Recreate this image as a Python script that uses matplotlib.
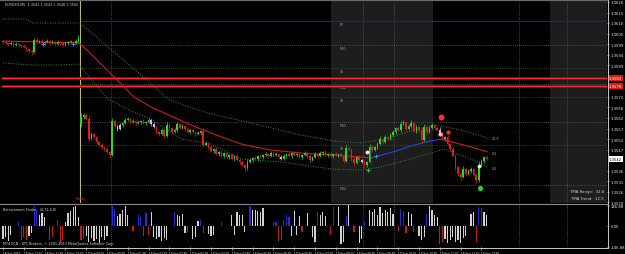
import numpy as np
import matplotlib
matplotlib.use("Agg")
import matplotlib.pyplot as plt
import matplotlib.transforms as mtransforms
from matplotlib.lines import Line2D

BASE = 1.3500
PIP = 0.0001

# ---------------- candles (pips above 1.3500) ----------------
gap_opens = {0: 101.0, 30: 59.5}
close_pips = [
    100.5, 100, 99.5, 100, 99, 99.5, 99, 98.5, 98, 97,
    96, 95.5, 101.5, 100.5, 101, 100, 100.5, 101, 100, 100.5,
    99.5, 100.5, 100, 99, 100, 100.5, 100.5, 100, 101, 102.5,
    63, 64, 62, 52, 54.5, 53, 50.5, 49, 48, 47,
    45.5, 44, 61, 58.5, 57, 59, 60, 61.5, 62, 60.5,
    61, 60, 60.5, 61, 60, 60.5, 61.5, 59.5, 58, 55.5,
    54.5, 56.5, 53.5, 59, 57.5, 55.5, 56.5, 59.5, 57.5, 58.5,
    57, 55.5, 56.5, 55.5, 54.5, 55, 56, 49, 50, 48,
    46, 47, 44.5, 45.5, 43.5, 45, 43, 44, 42, 43.5,
    41.5, 40.5, 39, 37.5, 40.5, 41.5, 42.5, 42, 43.5, 43,
    44, 44.5, 43.5, 45, 44, 44.5, 43, 42, 43.5, 44.5,
    43.5, 45, 44, 44.5, 43, 44, 45, 43.5, 41.5, 43,
    44.5, 43.5, 45, 45.5, 44, 44.5, 43.5, 44.5, 44, 44.5,
    43.5, 41, 47.5, 47, 42, 40, 43, 41.5, 40.5, 39,
    40.5, 48, 46.5, 48, 49.5, 52, 50.5, 53, 52, 54,
    55.5, 57.5, 56.5, 59.5, 60.5, 57, 58.5, 60, 56, 58,
    56.5, 51.5, 58, 55.5, 57.5, 59, 57.5, 56.5, 55, 52,
    53, 49.5, 47, 43.5, 38, 34.5, 33, 37, 34.5, 36,
    37, 34, 31.5, 39, 41, 43, 42,
]
upper_wick = [
    0.5, 1, 0.5, 1, 0.5, 1, 0.5, 0.5, 1, 0.5, 0.5, 1, 1, 1.5, 0.5, 1, 0.5, 1, 0.5, 1,
    0.5, 1, 0.5, 0.5, 1, 0.5, 1, 0.5, 1, 1.5,
    2, 1, 1, 1.5, 1, 0.5, 1, 0.5, 1, 0.5,
    1, 0.5, 1.5, 1, 0.5, 1, 0.5, 1, 1, 0.5,
    1, 0.5, 1, 0.5, 1, 0.5, 1, 0.5, 1, 1,
    0.5, 1, 0.5, 1.5, 1, 0.5, 1, 1, 0.5, 1,
    0.5, 1, 0.5, 1, 0.5, 1, 0.5, 1.5, 1, 0.5,
    1, 0.5, 1, 0.5, 1, 0.5, 1, 0.5, 1, 0.5,
    1, 0.5, 1, 0.5, 1.5, 1, 0.5, 1, 0.5, 1,
    0.5, 1, 0.5, 1, 0.5, 1, 0.5, 1, 1, 0.5,
    1, 0.5, 1, 0.5, 1, 0.5, 1, 0.5, 1, 0.5,
    1, 0.5, 1, 0.5, 1, 0.5, 1, 0.5, 1, 0.5,
    1, 0.5, 1.5, 1, 0.5, 1, 0.5, 1, 0.5, 1,
    0.5, 1.5, 1, 0.5, 1, 1.5, 0.5, 1, 0.5, 1,
    1, 0.5, 1, 1.5, 1, 0.5, 1, 1.5, 0.5, 1,
    0.5, 1, 1.5, 0.5, 1, 1, 0.5, 1, 1.5, 1,
    0.5, 1, 0.5, 1, 1, 0.5, 1, 1.5, 0.5, 1,
    1, 0.5, 1, 2, 1, 0.5, 1,
]
lower_wick = [
    1, 0.5, 1, 0.5, 1, 0.5, 1, 1, 0.5, 1, 1, 1.5, 0.5, 1, 0.5, 0.5, 1, 0.5, 1, 0.5,
    1, 0.5, 1, 1, 0.5, 1, 0.5, 1, 0.5, 1,
    1.5, 1, 0.5, 1, 0.5, 1, 1, 0.5, 1, 1,
    0.5, 1.5, 0.5, 1, 1, 0.5, 1, 0.5, 0.5, 1,
    0.5, 1, 0.5, 1, 0.5, 1, 0.5, 1, 0.5, 1,
    1, 0.5, 1, 0.5, 1, 1, 0.5, 1, 0.5, 0.5,
    1, 0.5, 1, 0.5, 1, 0.5, 1, 1, 0.5, 1,
    0.5, 1, 0.5, 1, 0.5, 1, 0.5, 1, 0.5, 1,
    0.5, 1, 0.5, 1.5, 1, 0.5, 1, 0.5, 1, 0.5,
    1, 0.5, 1, 0.5, 1, 0.5, 1, 0.5, 0.5, 1,
    0.5, 1, 0.5, 1, 0.5, 1, 0.5, 1, 1, 0.5,
    0.5, 1, 0.5, 1, 0.5, 1, 0.5, 1, 0.5, 1,
    0.5, 1, 0.5, 1, 1, 1.5, 0.5, 1, 0.5, 1.5,
    1, 0.5, 1, 0.5, 1, 0.5, 1, 0.5, 1, 0.5,
    0.5, 1, 0.5, 1, 0.5, 1, 0.5, 1, 0.5, 1,
    1, 1.5, 0.5, 1, 0.5, 0.5, 1, 0.5, 1, 0.5,
    1, 0.5, 1, 0.5, 1.5, 1, 1.5, 0.5, 1, 0.5,
    1, 0.5, 1.5, 1, 0.5, 1, 0.5,
]
marked_candles = [44, 45, 57, 58, 107, 138, 168]

# ---------------- TMA bands (candle index, pips) ----------------
tma_mid_idx = [0, 14.6, 29.2, 31.9, 37.7, 43.5, 50.4, 56.9, 64.6, 72.3, 80, 91.5, 103.1,
               114.6, 126.2, 137.7, 141.5, 151.2, 156.9, 162.7, 168.5, 174.2, 180, 186.5]
tma_mid = [101, 100.5, 100, 97, 89.5, 82, 73, 68, 63.5, 59, 55, 49.5, 46.5,
           45, 44, 43, 42.5, 46, 48.5, 50.5, 52, 50, 48, 45.5]
tma_up_idx = [0, 8.8, 11.5, 29.2, 30, 37.7, 45.4, 53.1, 63.5, 70.4, 80, 95.4, 114.6,
              127.3, 137.7, 147.3, 156.9, 165.8, 176.2, 186.5]
tma_up = [112, 112, 110, 110, 109.5, 101, 92.5, 84, 72, 68.5, 64.5, 60, 54,
          51, 50, 52, 56, 59, 56.5, 52.5]
tma_lo_idx = [0, 10.8, 22.3, 29.2, 33.8, 40.4, 49.2, 56.9, 68.5, 80, 91.5, 106.9,
              126.2, 137.7, 145.4, 156.9, 169.6, 178.1, 186.5]
tma_lo = [90, 89, 89, 89.5, 82, 72, 66, 62, 52, 49.5, 42, 40.5,
          37, 36.5, 38, 42, 47, 43, 38]
band_labels = ["24.9", "0.2", "0.2"]

# ---------------- signals ----------------
sell_sig_idx, sell_sig = [168.5], [63]
sell_small_idx, sell_small = [171.2], [55.5]
buy_sig_idx, buy_sig = [183.5], [27.5]
buy_star_idx, buy_star = [140.4], [36.5]
white_dot_idx, white_dot = [140, 183.1], [45.5, 38.5]
pink_dot_idx, pink_dot = [168.1], [54.5]
blue_cross_idx, blue_cross = [15.4, 26.9, 143.5], [99.5, 99.5, 43.5]

# ---------------- pivots ----------------
pivot_names = ["PP", "MS1", "S1", "MS2", "S2", "MS3", "S3", "MS4"]
pivot_pips = [111, 99, 87.5, 79.5, 73, 60.5, 49, 29]
red_levels = [82.5, 78.5]
red_level_labels = ["1.3583", "1.3579"]
last_price_label = "1.3542"

price_ticks = [1.36205, 1.36152, 1.36100, 1.36047, 1.35994, 1.35941, 1.35889,
               1.35730, 1.35678, 1.35625, 1.35572, 1.35519, 1.35467,
               1.35361, 1.35308, 1.35256, 1.35203]

# ---------------- Retracement Finder histogram ----------------
hist_vals = [
    -90, -80, -105, -60, 0, 0, 28, -100, -80, -95,
    -70, -50, 140, 115, 75, 90, 65, 0, -95, -80,
    0, 45, -120, -100, 25, 90, 105, 130, 140, 60,
    -100, -90, -70, -110, -85, -105, -90, -120, -80, -100,
    -70, 0, 140, 120, 70, 85, 110, 140, 80, 0,
    -35, 0, 80, 65, -70, 90, -65, 95, -80, -90,
    -75, -105, -85, -95, 0, 0, 95, 80, 70, 85,
    -50, -45, 0, -90, -75, 35, 40, -50, 0, -55,
    -70, -60, 0, 0, 25, 0, 0, 0, 80, -65,
    95, 75, 80, -40, 0, 140, 115, 115, 105, 95,
    125, 0, 0, 0, 25, 25, -105, -95, 45, 80,
    60, -70, 105, -60, 70, -45, 0, 90, 0, -80,
    -110, 95, 80, 95, 70, 0, -60, 135, 0, 130,
    -125, -110, 70, 145, 0, -45, 0, -120, -90, 25,
    0, 110, 95, 120, 80, 130, 90, 115, 100, 125,
    85, 0, -35, 120, 105, -50, 100, 85, -45, 0,
    -70, -95, -80, 85, 140, 110, 80, 60, -125, -115,
    -90, -120, -100, -80, -110, -95, -120, -85, -70, 0,
    85, 100, -115, 130, 125, 95, 80,
]
hist_kind = ("wwwwwwbrrr" "wwbbwwwwrr" "wbrrwwwwww" "rrwwwwwwww" "wwbbwwwwww"
             "rwbbrbrwww" "wwwwwwbwww" "wrwwwwbrww" "wwwwbwwwww" "wwwwwbwwww"
             "wwwwbbrrbb" "bwwwwrwwww" "wbwwwwrbww" "wwbwwrwwwb" "wwwwwwwwww"
             "wwrbbrwwrw" "wwwbwwwwrr" "wwwwwwwwww" "wwrbbww")

time_labels = ["18 Sep 2013", "18 Sep 22:10", "18 Sep 22:50", "18 Sep 23:30",
               "19 Sep 00:10", "19 Sep 00:50", "19 Sep 01:30", "19 Sep 02:10",
               "19 Sep 02:50", "19 Sep 03:30", "19 Sep 04:10", "19 Sep 04:50",
               "19 Sep 05:30", "19 Sep 06:10", "19 Sep 06:50", "19 Sep 07:30",
               "19 Sep 08:10", "19 Sep 08:50", "19 Sep 09:30", "19 Sep 10:10",
               "19 Sep 10:50", "19 Sep 11:30", "19 Sep 12:10", "19 Sep 12:50"]
bars_per_label = 8

session_shading = [(126.2, 165.4), (210.4, 233.0)]
grid_x = [41.5, 138.5, 150.4, 198.5, 216.9]
separator_x = 29.6

# ================= drawing =================
def P(v):
    return BASE + np.asarray(v, dtype=float) * PIP

W, H = 625.0, 255.0
fig = plt.figure(figsize=(6.25, 2.55), dpi=100, facecolor="black")

def rect(x0, y0, x1, y1):
    return [x0 / W, (H - y1) / H, (x1 - x0) / W, (y1 - y0) / H]

ax = fig.add_axes(rect(2, 2, 607, 204), facecolor="black")
axs = fig.add_axes(rect(2, 205, 607, 248), facecolor="black")
XL = (-0.4, 232.3)
for a in (ax, axs):
    a.set_xlim(*XL)
    for s in a.spines.values():
        s.set_visible(False)
ax.set_ylim(P(20), P(121))
axs.set_ylim(-147, 154)

FS = 2.7
GRAY = "#5a5a5a"

# session shading and grid
for (a0, a1) in session_shading:
    ax.axvspan(a0, a1, color="#1d1d1d", lw=0, zorder=0)
for gx in grid_x:
    ax.axvline(gx, color=GRAY, lw=0.6, ls=(0, (1, 1.5)), zorder=1)
    axs.axvline(gx, color=GRAY, lw=0.6, ls=(0, (1, 1.5)), zorder=1)
ax.axvline(separator_x, color="#b8b47a", lw=0.8, zorder=2)

# pivot lines
for i, (name, pv) in enumerate(zip(pivot_names, pivot_pips)):
    if name == "PP":
        ax.hlines(P(pv), 30, XL[1], color="#1f1f96", lw=0.8, zorder=2)
    else:
        col = "#2f5a2f" if name.startswith("S") else GRAY
        ax.hlines(P(pv), 30, XL[1], color=col, lw=0.6, ls=(0, (1, 1.5)), zorder=2)
    ax.text(129.6, P(pv - 0.6), name, color="#9a9a9a", fontsize=2.3, va="top",
            ha="left", zorder=3)
for rv in red_levels:
    ax.axhline(P(rv), color="#7a1010", lw=2.0, zorder=3)
    ax.axhline(P(rv), color="#ff2a2a", lw=0.9, zorder=3)

# TMA bands
band_style = dict(color="#2f8f2f", lw=0.7, ls=(0, (1, 1.6)), zorder=4)
ax.plot(tma_up_idx, P(tma_up), **band_style)
ax.plot(tma_lo_idx, P(tma_lo), **band_style)
for k in range(len(tma_mid) - 1):
    col = "#2a45e0" if tma_mid[k + 1] > tma_mid[k] else "#c81e1e"
    ax.plot(tma_mid_idx[k:k + 2], P(tma_mid[k:k + 2]), color=col, lw=0.8, zorder=4,
            solid_capstyle="butt")

# candles
n = len(close_pips)
x = np.arange(n)
opens = []
for i in range(n):
    opens.append(gap_opens[i] if i in gap_opens else close_pips[i - 1])
opens = np.array(opens)
closes = np.array(close_pips, dtype=float)
highs = np.maximum(opens, closes) + np.array(upper_wick)
lows = np.minimum(opens, closes) - np.array(lower_wick)
cols = []
for i in range(n):
    if i in marked_candles:
        cols.append("#c8b8f0")
    elif closes[i] >= opens[i]:
        cols.append("#22dd22")
    else:
        cols.append("#dd1f1f")
ax.vlines(x, P(lows), P(highs), colors=cols, lw=0.5, zorder=5)
body_lo = np.minimum(opens, closes)
body_h = np.maximum(np.abs(closes - opens), 0.35)
ax.bar(x, body_h * PIP, bottom=P(body_lo), width=0.62, color=cols, lw=0, zorder=6)

# signals
ax.plot(sell_sig_idx, P(sell_sig), "o", color="#ff3030", ms=3.2, zorder=7)
ax.plot(sell_small_idx, P(sell_small), "o", color="#ff3030", ms=2.0, zorder=7)
ax.plot(pink_dot_idx, P(pink_dot), "o", color="#ffb4b4", ms=2.0, zorder=7)
ax.plot(buy_sig_idx, P(buy_sig), "o", color="#22cc22", ms=2.8, zorder=7)
ax.plot(buy_star_idx, P(buy_star), "+", color="#22cc22", ms=2.8, mew=0.8, zorder=7)
ax.plot(white_dot_idx, P(white_dot), "o", color="#e8e8e8", ms=1.8, zorder=7)
ax.plot(blue_cross_idx, P(blue_cross), "+", color="#3a8cff", ms=2.4, mew=0.7, zorder=7)

# band value labels
for lbl, pv in zip(band_labels, [tma_up[-1], tma_mid[-1] - 0.5, tma_lo[-1] - 0.5]):
    ax.text(187.8, P(pv), lbl, color="#a8a8a8", fontsize=2.4, va="center", ha="left")

ax.text(29.9, P(22.5), "Friday", color="#e03030", fontsize=2.4, ha="center", va="center")
ax.text(0.995, 0.058, "TMA Range:  32.6", transform=ax.transAxes, color="#d0d0d0",
        fontsize=2.8, ha="right", va="center")
ax.text(0.995, 0.024, "TMA Trend:  12.5", transform=ax.transAxes, color="#d0d0d0",
        fontsize=2.8, ha="right", va="center")

# right price axis
ax.yaxis.tick_right()
ax.set_yticks(price_ticks)
ax.set_yticklabels(["%.4f" % t for t in price_ticks])
ax.tick_params(axis="y", colors="#c8c8c8", labelcolor="#e8e8e8", labelsize=FS,
               length=1.5, width=0.5, pad=1.2)
ax.set_xticks([])
trans = mtransforms.blended_transform_factory(ax.transAxes, ax.transData)
for rv, lbl in zip(red_levels, red_level_labels):
    ax.text(1.003, P(rv), lbl, transform=trans, color="white", fontsize=FS, va="center",
            ha="left", clip_on=False,
            bbox=dict(boxstyle="square,pad=0.15", fc="#e01818", ec="none"))
ax.text(1.003, P(close_pips[-1]), last_price_label, transform=trans, color="black",
        fontsize=FS, va="center", ha="left", clip_on=False,
        bbox=dict(boxstyle="square,pad=0.15", fc="white", ec="none"))

# histogram
hcol = {"w": "#d2d2d2", "b": "#2a2ad0", "r": "#c01c1c"}
hx = np.arange(len(hist_vals))
axs.bar(hx, hist_vals, width=0.45, color=[hcol[c] for c in hist_kind], lw=0, zorder=3)
axs.yaxis.tick_right()
axs.set_yticks([146.88, 0, -146.88])
axs.set_yticklabels(["146.88", "0.00", "-146.88"])
axs.tick_params(axis="y", colors="#c8c8c8", labelcolor="#e8e8e8", labelsize=FS,
                length=1.5, width=0.5, pad=1.2)
ticks = np.arange(len(time_labels)) * bars_per_label
axs.set_xticks(ticks)
axs.set_xticklabels(time_labels)
axs.tick_params(axis="x", colors="#c8c8c8", labelcolor="#e8e8e8", labelsize=1.95,
                length=2.0, width=0.5, pad=0.8, direction="out")
for t in axs.get_xticklabels():
    t.set_horizontalalignment("left")
axs.text(0.002, 0.93, "Retracement Finder - (4,72,4,0)", transform=axs.transAxes,
         color="#d8d8d8", fontsize=2.4, va="top", ha="left")
axs.text(0.002, 0.04, "MT4 ECN - KTC Brokers, \u00a9 2001-2013 MetaQuotes Software Corp.",
         transform=axs.transAxes, color="#d8d8d8", fontsize=2.4, va="bottom", ha="left")

# header and frame lines
fig.text(5 / W, 1 - 5 / H, "EURUSD,M5  1.3541 1.3543 1.3540 1.3542", color="#d0d0d0",
         fontsize=2.4, va="center", ha="left")

def fline(x0, y0, x1, y1, c, lw=0.7):
    fig.add_artist(Line2D([x0 / W, x1 / W], [1 - y0 / H, 1 - y1 / H], color=c, lw=lw))

fline(0, 0.6, 607, 0.6, "#6a6a6a", 0.9)
fline(0, 204.5, 607, 204.5, "#8a8a8a", 0.8)
fline(0, 248.5, 607, 248.5, "#c8c8c8", 0.7)
fline(607.5, 0, 607.5, 248.5, "#c8c8c8", 0.7)

fig.savefig("out.png", dpi=100, facecolor="black")
